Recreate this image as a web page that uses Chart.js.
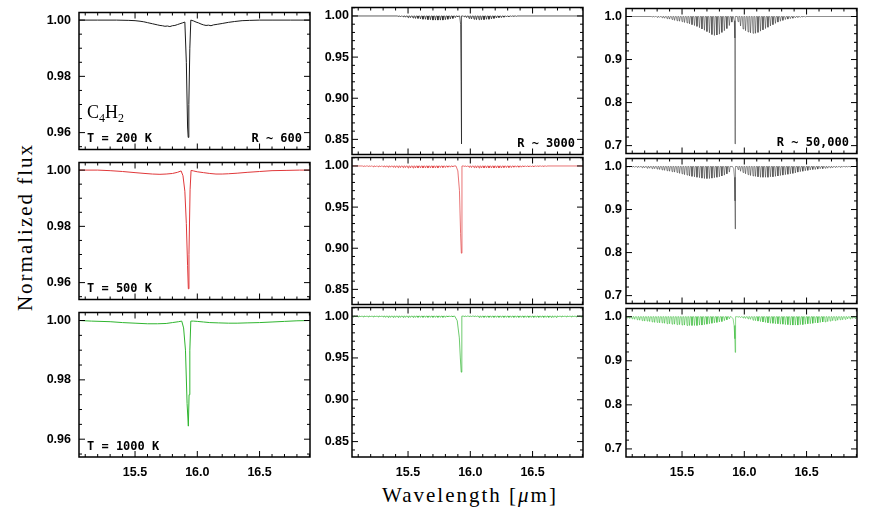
<!DOCTYPE html>
<html>
<head>
<meta charset="utf-8">
<script src="https://cdn.jsdelivr.net/npm/chart.js@4.4.1/dist/chart.umd.min.js"></script>
<style>
  body { margin: 0; background: #fff; }
  #wrap { position: relative; width: 872px; height: 508px; overflow: hidden; background: #fff; }
  #wrap canvas { position: absolute; }
  .ttl { position: absolute; font-family: "Liberation Serif", serif; font-size: 21px; letter-spacing: 2px; color: #000; white-space: nowrap; }
  #xt { left: 470px; top: 495px; transform: translate(-50%, -50%); }
  #yt { left: 25px; top: 227px; transform: translate(-50%, -50%) rotate(-90deg); }
</style>
</head>
<body>
<div id="wrap">
  <div class="ttl" id="xt">Wavelength [<i>μ</i>m]</div>
  <div class="ttl" id="yt">Normalized flux</div>
</div>
<script>
// axes
const xMin = 15.05
const xMax = 16.905
const xTicks = [15.5, 16.0, 16.5]
const yRange = [[0.954, 1.0027], [0.8316, 1.0103], [0.6817, 1.0186]]
const yTicks = [[0.96, 0.98, 1.00], [0.85, 0.90, 0.95, 1.00], [0.7, 0.8, 0.9, 1.0]]
const yMinor = [0.005, 0.01, 0.02]
const yDigits = [2, 2, 1]

const temps = ['T = 200 K', 'T = 500 K', 'T = 1000 K']
const resLabels = ['R ~ 600', 'R ~ 3000', 'R ~ 50,000']

// R ~ 600 spectra
const lowLam200 = [15.05, 15.20, 15.35, 15.45, 15.50, 15.54, 15.57, 15.60, 15.62, 15.64, 15.66, 15.68, 15.70, 15.72, 15.74, 15.76, 15.78, 15.80, 15.82, 15.84, 15.86, 15.88, 15.90, 15.912, 15.922, 15.927, 15.932, 15.940, 15.948, 15.97, 15.99, 16.01, 16.03, 16.05, 16.07, 16.09, 16.11, 16.13, 16.16, 16.20, 16.25, 16.30, 16.36, 16.42, 16.50, 16.60, 16.75, 16.905]
const lowFlux200 = [1.0000, 1.0000, 1.0000, 0.9999, 0.9998, 0.9996, 0.9994, 0.9991, 0.9989, 0.9987, 0.9985, 0.9983, 0.9981, 0.9980, 0.9978, 0.9979, 0.9977, 0.9980, 0.9981, 0.9984, 0.9987, 0.9990, 0.9993, 0.9850, 0.9620, 0.9583, 0.9700, 0.9900, 1.0000, 0.9997, 0.9993, 0.9990, 0.9986, 0.9983, 0.9981, 0.9982, 0.9980, 0.9983, 0.9985, 0.9988, 0.9992, 0.9995, 0.9998, 0.9999, 1.0000, 1.0000, 1.0000, 1.0000]
const lowLam500 = [15.05, 15.20, 15.30, 15.40, 15.50, 15.58, 15.64, 15.70, 15.75, 15.80, 15.84, 15.87, 15.885, 15.900, 15.912, 15.922, 15.928, 15.933, 15.942, 15.950, 15.97, 16.00, 16.05, 16.10, 16.15, 16.20, 16.25, 16.32, 16.40, 16.50, 16.60, 16.72, 16.82, 16.905]
const lowFlux500 = [1.0000, 1.0000, 0.9998, 0.9995, 0.9991, 0.9988, 0.9986, 0.9985, 0.9986, 0.9988, 0.9992, 0.9997, 0.9980, 0.9925, 0.9810, 0.9660, 0.9578, 0.9700, 0.9930, 0.9999, 0.9997, 0.9994, 0.9991, 0.9988, 0.9986, 0.9986, 0.9987, 0.9989, 0.9992, 0.9995, 0.9998, 0.9999, 1.0000, 1.0000]
const lowLam1000 = [15.05, 15.15, 15.30, 15.40, 15.50, 15.60, 15.68, 15.75, 15.80, 15.85, 15.875, 15.890, 15.905, 15.918, 15.928, 15.934, 15.940, 15.948, 15.97, 16.00, 16.05, 16.10, 16.17, 16.25, 16.32, 16.40, 16.50, 16.60, 16.70, 16.80, 16.905]
const lowFlux1000 = [1.0000, 0.9998, 0.9996, 0.9993, 0.9991, 0.9989, 0.9989, 0.9990, 0.9993, 0.9996, 0.9998, 0.9975, 0.9900, 0.9720, 0.9644, 0.9750, 0.9900, 0.9998, 0.9998, 0.9997, 0.9995, 0.9993, 0.9992, 0.9991, 0.9991, 0.9992, 0.9993, 0.9995, 0.9997, 0.9999, 1.0000]

// line positions of the two branches
const lineLamR = [15.06, 15.08, 15.10, 15.12, 15.14, 15.16, 15.18, 15.20, 15.22, 15.24, 15.26, 15.28, 15.30, 15.32, 15.34, 15.36, 15.38, 15.40, 15.42, 15.44, 15.46, 15.48, 15.50, 15.52, 15.54, 15.56, 15.58, 15.60, 15.62, 15.64, 15.66, 15.68, 15.70, 15.72, 15.74, 15.76, 15.78, 15.80, 15.82, 15.84, 15.86, 15.88, 15.90]
const lineLamP = [15.95, 15.97, 15.99, 16.01, 16.03, 16.05, 16.07, 16.09, 16.11, 16.13, 16.15, 16.17, 16.19, 16.21, 16.23, 16.25, 16.27, 16.29, 16.31, 16.33, 16.35, 16.37, 16.39, 16.41, 16.43, 16.45, 16.47, 16.49, 16.51, 16.53, 16.55, 16.57, 16.59, 16.61, 16.63, 16.65, 16.67, 16.69, 16.71, 16.73, 16.75, 16.77, 16.79, 16.81, 16.83, 16.85, 16.87, 16.89]

// R ~ 3000: flux at line bottoms
const midR200 = [1.000, 1.000, 1.000, 1.000, 1.000, 1.000, 1.000, 1.000, 1.000, 1.000, 1.000, 1.000, 1.000, 1.000, 1.000, 1.000, 1.000, 1.000, 0.9995, 0.999, 0.999, 0.9985, 0.998, 0.998, 0.9975, 0.997, 0.997, 0.9965, 0.996, 0.996, 0.9955, 0.9955, 0.995, 0.995, 0.995, 0.995, 0.995, 0.9955, 0.996, 0.9965, 0.997, 0.998, 0.999]
const midP200 = [0.999, 0.998, 0.997, 0.9965, 0.996, 0.9955, 0.9955, 0.9955, 0.9955, 0.996, 0.996, 0.9965, 0.997, 0.9975, 0.998, 0.998, 0.9985, 0.999, 0.999, 0.9995, 0.9995, 0.9995, 1.000, 1.000, 1.000, 1.000, 1.000, 1.000, 1.000, 1.000, 1.000, 1.000, 1.000, 1.000, 1.000, 1.000, 1.000, 1.000, 1.000, 1.000, 1.000, 1.000, 1.000, 1.000, 1.000, 1.000, 1.000, 1.000]
const midR500 = [1.000, 1.000, 1.000, 1.000, 0.9995, 0.9995, 0.9995, 0.9995, 0.999, 0.999, 0.999, 0.999, 0.999, 0.9985, 0.9985, 0.9985, 0.9985, 0.998, 0.998, 0.998, 0.998, 0.998, 0.9975, 0.9975, 0.9975, 0.9975, 0.9975, 0.9975, 0.9975, 0.9975, 0.9975, 0.9975, 0.9975, 0.9975, 0.9975, 0.998, 0.998, 0.998, 0.9985, 0.9985, 0.999, 0.999, 0.9995]
const midP500 = [0.9995, 0.999, 0.9985, 0.998, 0.998, 0.9975, 0.9975, 0.9975, 0.9975, 0.9975, 0.9975, 0.9975, 0.9975, 0.9975, 0.9975, 0.9975, 0.998, 0.998, 0.998, 0.998, 0.9985, 0.9985, 0.9985, 0.9985, 0.999, 0.999, 0.999, 0.999, 0.999, 0.9995, 0.9995, 0.9995, 0.9995, 0.9995, 1.000, 1.000, 1.000, 1.000, 1.000, 1.000, 1.000, 1.000, 1.000, 1.000, 1.000, 1.000, 1.000, 1.000]
const midR1000 = [0.999, 0.999, 0.999, 0.999, 0.999, 0.999, 0.999, 0.999, 0.999, 0.999, 0.999, 0.999, 0.999, 0.9985, 0.9985, 0.9985, 0.9985, 0.9985, 0.9985, 0.9985, 0.9985, 0.9985, 0.9985, 0.9985, 0.9985, 0.9985, 0.9985, 0.9985, 0.9985, 0.9985, 0.9985, 0.9985, 0.9985, 0.9985, 0.9985, 0.9985, 0.9985, 0.9985, 0.999, 0.999, 0.999, 0.999, 0.999]
const midP1000 = [0.9995, 0.9995, 0.9995, 0.9995, 0.9995, 0.9995, 0.9985, 0.9985, 0.9985, 0.9985, 0.9985, 0.9985, 0.9985, 0.9985, 0.9985, 0.9985, 0.9985, 0.9985, 0.9985, 0.9985, 0.9985, 0.9985, 0.9985, 0.9985, 0.9985, 0.9985, 0.9985, 0.9985, 0.9985, 0.9985, 0.9985, 0.9985, 0.9985, 0.9985, 0.9985, 0.9985, 0.9985, 0.9985, 0.999, 0.999, 0.999, 0.999, 0.999, 0.999, 0.999, 0.999, 0.999, 0.999]

// R ~ 50,000: flux at line bottoms
const highR200 = [1.000, 1.000, 1.000, 1.000, 1.000, 1.000, 1.000, 1.000, 1.000, 1.000, 0.999, 0.999, 0.998, 0.998, 0.997, 0.996, 0.995, 0.994, 0.993, 0.991, 0.990, 0.989, 0.988, 0.986, 0.985, 0.983, 0.981, 0.979, 0.977, 0.974, 0.971, 0.968, 0.965, 0.962, 0.958, 0.956, 0.957, 0.959, 0.963, 0.967, 0.972, 0.979, 0.987]
const highP200 = [0.988, 0.978, 0.971, 0.967, 0.964, 0.962, 0.961, 0.961, 0.963, 0.966, 0.969, 0.972, 0.975, 0.978, 0.981, 0.984, 0.987, 0.989, 0.991, 0.993, 0.994, 0.995, 0.996, 0.997, 0.998, 0.998, 0.999, 0.999, 1.000, 1.000, 1.000, 1.000, 1.000, 1.000, 1.000, 1.000, 1.000, 1.000, 1.000, 1.000, 1.000, 1.000, 1.000, 1.000, 1.000, 1.000, 1.000, 1.000]
const highR500 = [0.999, 0.999, 0.999, 0.998, 0.998, 0.998, 0.997, 0.997, 0.996, 0.996, 0.995, 0.995, 0.994, 0.993, 0.992, 0.991, 0.990, 0.989, 0.988, 0.987, 0.986, 0.984, 0.983, 0.981, 0.980, 0.978, 0.977, 0.976, 0.975, 0.974, 0.973, 0.972, 0.972, 0.972, 0.973, 0.974, 0.975, 0.976, 0.978, 0.980, 0.983, 0.987, 0.992]
const highP500 = [0.993, 0.989, 0.986, 0.983, 0.981, 0.979, 0.978, 0.977, 0.976, 0.975, 0.975, 0.975, 0.975, 0.976, 0.976, 0.977, 0.978, 0.979, 0.980, 0.981, 0.982, 0.983, 0.984, 0.985, 0.987, 0.988, 0.989, 0.990, 0.991, 0.992, 0.993, 0.993, 0.994, 0.995, 0.995, 0.996, 0.996, 0.997, 0.997, 0.998, 0.998, 0.998, 0.999, 0.999, 0.999, 0.999, 1.000, 1.000]
const highR1000 = [0.997, 0.996, 0.995, 0.994, 0.993, 0.992, 0.991, 0.990, 0.990, 0.989, 0.988, 0.987, 0.987, 0.986, 0.986, 0.985, 0.984, 0.984, 0.983, 0.983, 0.982, 0.982, 0.981, 0.981, 0.980, 0.980, 0.980, 0.980, 0.980, 0.981, 0.981, 0.982, 0.983, 0.984, 0.985, 0.986, 0.987, 0.988, 0.989, 0.991, 0.993, 0.995, 0.997]
const highP1000 = [0.999, 0.998, 0.997, 0.996, 0.995, 0.994, 0.992, 0.991, 0.990, 0.989, 0.988, 0.987, 0.986, 0.985, 0.985, 0.984, 0.984, 0.983, 0.983, 0.982, 0.982, 0.981, 0.981, 0.981, 0.981, 0.982, 0.982, 0.983, 0.984, 0.984, 0.985, 0.986, 0.986, 0.987, 0.988, 0.988, 0.989, 0.990, 0.991, 0.991, 0.992, 0.993, 0.993, 0.994, 0.995, 0.995, 0.996, 0.996]

// central Q branch profiles
const midQLam200 = [15.915, 15.922, 15.926, 15.928, 15.931]
const midQFlux200 = [1.000, 0.990, 0.920, 0.8444, 1.000]
const midQLam500 = [15.885, 15.900, 15.913, 15.922, 15.928, 15.933]
const midQFlux500 = [1.000, 0.994, 0.970, 0.918, 0.894, 1.000]
const midQLam1000 = [15.875, 15.895, 15.912, 15.920, 15.927, 15.932]
const midQFlux1000 = [1.000, 0.9945, 0.974, 0.950, 0.933, 1.000]
const highQLam200 = [15.912, 15.920, 15.924, 15.926, 15.928]
const highQFlux200 = [1.000, 0.990, 0.950, 0.704, 1.000]
const highQLam500 = [15.905, 15.915, 15.921, 15.925, 15.927, 15.929]
const highQFlux500 = [1.000, 0.995, 0.975, 0.920, 0.855, 1.000]
const highQLam1000 = [15.895, 15.910, 15.918, 15.924, 15.927, 15.930]
const highQFlux1000 = [1.000, 0.995, 0.980, 0.950, 0.919, 1.000]

// layout
const boxLeft = [79, 352, 626]
const boxRight = [310, 583, 857]
const boxTop = [6, 156, 306]
const boxBottom = [156, 306, 457]
const panelColors = [
  ['#1a1a1a', '#1a1a1a', '#333333'],
  ['#e0383a', '#e0383a', '#333333'],
  ['#2fb52f', '#2fb52f', '#30b830']
]
const halfWidth = 0.006

function toPoints(lam, flux) {
  return lam.map((l, i) => ({ x: l, y: flux[i] }))
}

function forestPoints(depR, depP, qLam, qFlux) {
  const pts = [{ x: xMin, y: 1 }, { x: xMax, y: 1 }]
  const q0 = qLam[0], q1 = qLam[qLam.length - 1]
  const addLine = (l, d) => {
    if (d >= 1 || (l + halfWidth > q0 && l - halfWidth < q1)) return
    pts.push({ x: l - halfWidth, y: 1 }, { x: l, y: d }, { x: l + halfWidth, y: 1 })
  }
  lineLamR.forEach((l, i) => addLine(l, depR[i]))
  lineLamP.forEach((l, i) => addLine(l, depP[i]))
  qLam.forEach((l, i) => pts.push({ x: l, y: qFlux[i] }))
  return pts.sort((a, b) => a.x - b.x)
}

const spectra = [
  [toPoints(lowLam200, lowFlux200), forestPoints(midR200, midP200, midQLam200, midQFlux200), forestPoints(highR200, highP200, highQLam200, highQFlux200)],
  [toPoints(lowLam500, lowFlux500), forestPoints(midR500, midP500, midQLam500, midQFlux500), forestPoints(highR500, highP500, highQLam500, highQFlux500)],
  [toPoints(lowLam1000, lowFlux1000), forestPoints(midR1000, midP1000, midQLam1000, midQFlux1000), forestPoints(highR1000, highP1000, highQLam1000, highQFlux1000)]
]

// frame with inward ticks on all four sides
const framePlugin = {
  id: 'frame',
  afterDatasetsDraw(chart, args, opts) {
    const { ctx, chartArea: a } = chart
    const xs = chart.scales.x, ys = chart.scales.y
    ctx.save()
    ctx.strokeStyle = '#000'
    ctx.lineWidth = 1
    ctx.beginPath()
    for (let k = 151; k <= 169; k++) {
      const px = xs.getPixelForValue(k / 10)
      const len = k % 5 === 0 ? 6 : 3
      ctx.moveTo(px, a.bottom); ctx.lineTo(px, a.bottom - len)
      ctx.moveTo(px, a.top); ctx.lineTo(px, a.top + len)
    }
    const step = opts.minor
    const k0 = Math.ceil(ys.min / step - 1e-6), k1 = Math.floor(ys.max / step + 1e-6)
    for (let k = k0; k <= k1; k++) {
      const v = k * step
      const major = opts.major.some(t => Math.abs(t - v) < step / 10)
      const py = ys.getPixelForValue(v)
      const len = major ? 6 : 3
      ctx.moveTo(a.left, py); ctx.lineTo(a.left + len, py)
      ctx.moveTo(a.right, py); ctx.lineTo(a.right - len, py)
    }
    ctx.stroke()
    ctx.lineWidth = 1.5
    ctx.strokeRect(a.left, a.top, a.right - a.left, a.bottom - a.top)
    ctx.restore()
  }
}

// panel annotations
const textPlugin = {
  id: 'panelText',
  afterDraw(chart, args, opts) {
    const { ctx, chartArea: a } = chart
    ctx.save()
    ctx.fillStyle = '#000'
    ctx.textBaseline = 'alphabetic'
    ctx.font = 'bold 12px "DejaVu Sans Mono"'
    if (opts.left) {
      ctx.textAlign = 'left'
      ctx.fillText(opts.left, a.left + 8, a.bottom - 7.5)
    }
    if (opts.right) {
      ctx.textAlign = 'right'
      ctx.fillText(opts.right, a.right - 8, a.bottom - 7.5)
    }
    if (opts.molecule) {
      ctx.textAlign = 'left'
      let x = a.left + 8
      const y = a.bottom - 32
      const parts = [['C', 0], ['4', 1], ['H', 0], ['2', 1]]
      parts.forEach(([s, sub]) => {
        ctx.font = sub ? '12px "Liberation Serif"' : '18px "Liberation Serif"'
        ctx.fillText(s, x, y + (sub ? 4 : 0))
        x += ctx.measureText(s).width
      })
    }
    ctx.restore()
  }
}

const wrap = document.getElementById('wrap')
const tickFont = { family: 'Liberation Sans', size: 12.5, weight: 'bold' }
const yPad = [8, 3, 4]

function makePanel(row, col) {
  const L = boxLeft[col], R = boxRight[col], T = boxTop[row], B = boxBottom[row]
  const last = row === 2
  const padL = 56, padT = 9, padR = 6, padB = last ? 0 : 9, xAxisH = last ? 26 : 0
  const cv = document.createElement('canvas')
  cv.width = R - L + padL + padR
  cv.height = B - T + padT + padB + xAxisH
  cv.style.left = (L - padL) + 'px'
  cv.style.top = (T - padT) + 'px'
  wrap.appendChild(cv)

  new Chart(cv, {
    type: 'line',
    data: {
      datasets: [{
        data: spectra[row][col],
        borderColor: panelColors[row][col],
        borderWidth: col === 0 ? 1 : (col === 1 ? 0.7 : 0.55),
        pointRadius: 0,
        tension: 0
      }]
    },
    options: {
      responsive: false,
      animation: false,
      layout: { padding: { left: 0, top: padT, right: padR, bottom: padB } },
      plugins: {
        legend: { display: false },
        tooltip: { enabled: false },
        frame: { minor: yMinor[col], major: yTicks[col] },
        panelText: {
          left: col === 0 ? temps[row] : '',
          right: row === 0 ? resLabels[col] : '',
          molecule: row === 0 && col === 0
        }
      },
      scales: {
        x: {
          type: 'linear',
          min: xMin,
          max: xMax,
          grid: { display: false, drawTicks: false },
          border: { display: false },
          afterBuildTicks: s => { s.ticks = xTicks.map(v => ({ value: v })) },
          afterFit: s => { s.height = xAxisH },
          ticks: {
            display: last,
            padding: 8,
            maxRotation: 0,
            color: '#000',
            font: tickFont,
            callback: v => Number(v).toFixed(1)
          }
        },
        y: {
          min: yRange[col][0],
          max: yRange[col][1],
          grid: { display: false, drawTicks: false },
          border: { display: false },
          afterBuildTicks: s => { s.ticks = yTicks[col].map(v => ({ value: v })) },
          afterFit: s => { s.width = padL },
          ticks: {
            padding: yPad[col],
            color: '#000',
            font: tickFont,
            callback: v => Number(v).toFixed(yDigits[col])
          }
        }
      }
    },
    plugins: [framePlugin, textPlugin]
  })
}

for (let r = 0; r < 3; r++) {
  for (let c = 0; c < 3; c++) makePanel(r, c)
}
</script>
</body>
</html>
